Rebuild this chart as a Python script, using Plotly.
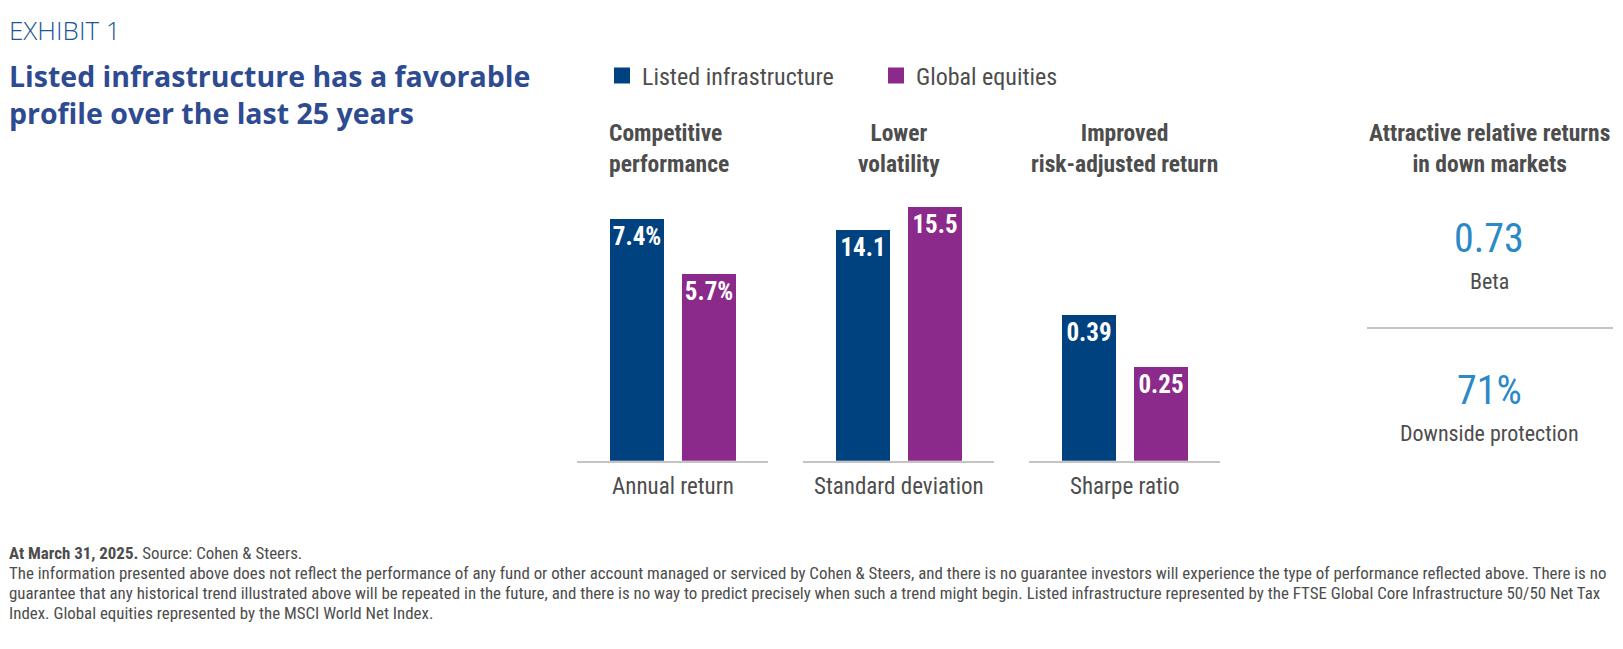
import plotly.graph_objects as go

# data
series = ["Listed infrastructure", "Global equities"]
metrics = ["Annual return", "Standard deviation", "Sharpe ratio"]
headers = ["Competitive<br>performance", "Lower<br>volatility", "Improved<br>risk-adjusted return"]
infra_vals = [7.4, 14.1, 0.39]
equity_vals = [5.7, 15.5, 0.25]
suffix = ["%", "", ""]
y_tops = [8.28, 16.54, 0.724]

beta_val = "0.73"
downside_val = "71%"

footnote_lines = [
    "<b>At March 31, 2025.</b> Source: Cohen & Steers.",
    "The information presented above does not reflect the performance of any fund or other account managed or serviced "
    "by Cohen & Steers, and there is no guarantee investors will experience the type of performance reflected above. There is no",
    "guarantee that any historical trend illustrated above will be repeated in the future, and there is no way to predict "
    "precisely when such a trend might begin. Listed infrastructure represented by the FTSE Global Core Infrastructure 50/50 Net Tax",
    "Index. Global equities represented by the MSCI World Net Index.",
]

# page body has an 8px margin, so the figure is placed at (8, 8)
OX, OY = 8, 8
W, H = 1615, 641
BLUE = "#00427f"
PURPLE = "#8b2a8b"
GRAY = "#4d4d4d"
LIGHT = "#c4c4c4"
NUM_BLUE = "#2b89c6"
TITLE_BLUE = "#2e4b91"
COND = "Roboto Condensed, DejaVu Sans Condensed, sans-serif"


def px(x):
    return (x - OX) / W


def py(y):
    return 1 - (y - OY) / H


# pixel layout of each group (baseline left / right)
group_px = [(577, 768), (803, 994), (1029, 1220)]
y_bottom, y_top = 460.7, 190

fig = go.Figure()

for i, m in enumerate(metrics):
    ax = "" if i == 0 else str(i + 1)
    vals = [infra_vals[i], equity_vals[i]]
    for j, (name, color) in enumerate(zip(series, [BLUE, PURPLE])):
        fig.add_trace(go.Bar(
            x=[j], y=[vals[j]], name=name,
            marker=dict(color=color, line=dict(width=0)),
            width=0.75,
            text=[f"{vals[j]}{suffix[i]}"],
            textposition="inside", insidetextanchor="end",
            constraintext="none", textangle=0,
            textfont=dict(family=COND, size=25, color="white", weight="bold"),
            showlegend=False, hoverinfo="skip",
            xaxis="x" + ax, yaxis="y" + ax,
        ))
    l, r = group_px[i]
    fig.layout["xaxis" + ax] = dict(
        domain=[px(l), px(r)], range=[-0.833, 1.819], anchor="y" + ax,
        showline=True, linecolor=LIGHT, linewidth=2,
        showticklabels=False, ticks="", showgrid=False, zeroline=False,
        fixedrange=True,
    )
    fig.layout["yaxis" + ax] = dict(
        domain=[py(y_bottom), py(y_top)], range=[0, y_tops[i]], anchor="x" + ax,
        visible=False, fixedrange=True,
    )
    # category label under baseline
    fig.add_annotation(
        text=m, xref=f"x{ax} domain", x=0.5, xanchor="center", yref="paper", y=py(486),
        yanchor="middle", showarrow=False,
        font=dict(family=COND, size=23, color=GRAY),
    )
    # header above
    if i == 0:
        fig.add_annotation(
            text=headers[i], xref="paper", x=px(607), xanchor="left", align="left",
            yref="paper", y=py(148), yanchor="middle", showarrow=False,
            font=dict(family=COND, size=23.5, color=GRAY, weight="bold"),
        )
    else:
        fig.add_annotation(
            text=headers[i], xref=f"x{ax} domain", x=0.5, xanchor="center", align="center",
            yref="paper", y=py(148), yanchor="middle", showarrow=False,
            font=dict(family=COND, size=23.5, color=GRAY, weight="bold"),
        )

# legend entries
for name, color in zip(series, [BLUE, PURPLE]):
    fig.add_trace(go.Scatter(
        x=[None], y=[None], mode="markers", name=name,
        marker=dict(symbol="square", size=19, color=color),
        hoverinfo="skip",
    ))

# right panel
right_x = px(1489)
fig.add_annotation(
    text="Attractive relative returns<br>in down markets", xref="paper", x=right_x, xanchor="center",
    yref="paper", y=py(148), yanchor="middle", showarrow=False, align="center",
    font=dict(family=COND, size=23.5, color=GRAY, weight="bold"),
)
fig.add_annotation(
    text=beta_val, xref="paper", x=right_x, xanchor="center", yref="paper", y=py(238),
    yanchor="middle", showarrow=False, font=dict(family=COND, size=40, color=NUM_BLUE),
)
fig.add_annotation(
    text="Beta", xref="paper", x=right_x, xanchor="center", yref="paper", y=py(281),
    yanchor="middle", showarrow=False, font=dict(family=COND, size=22, color=GRAY),
)
fig.add_shape(
    type="line", xref="paper", yref="paper", x0=px(1367), x1=px(1613), y0=py(328), y1=py(328),
    line=dict(color=LIGHT, width=2),
)
fig.add_annotation(
    text=downside_val, xref="paper", x=right_x, xanchor="center", yref="paper", y=py(390),
    yanchor="middle", showarrow=False, font=dict(family=COND, size=40, color=NUM_BLUE),
)
fig.add_annotation(
    text="Downside protection", xref="paper", x=right_x, xanchor="center", yref="paper", y=py(433),
    yanchor="middle", showarrow=False, font=dict(family=COND, size=22, color=GRAY),
)

# titles
fig.add_annotation(
    text="EXHIBIT 1", xref="paper", x=px(7), xanchor="left", yref="paper", y=py(30),
    yanchor="middle", showarrow=False,
    font=dict(family="Open Sans", size=26, color="#1f5596", weight=300),
)
fig.add_annotation(
    text="Listed infrastructure has a favorable<br>profile over the last 25 years",
    xref="paper", x=px(7), xanchor="left", align="left", yref="paper", y=py(95),
    yanchor="middle", showarrow=False,
    font=dict(family="Open Sans", size=28.5, color=TITLE_BLUE, weight="bold"),
)

# footnote, one annotation per line
for line, yc in zip(footnote_lines, [553, 573, 593, 613]):
    fig.add_annotation(
        text=line, xref="paper", x=px(7), xanchor="left", align="left",
        yref="paper", y=py(yc), yanchor="middle", showarrow=False,
        font=dict(family=COND, size=16.9, color=GRAY),
    )

fig.update_layout(
    width=W, height=H,
    margin=dict(l=0, r=0, t=0, b=0),
    paper_bgcolor="white", plot_bgcolor="white",
    bargap=0,
    showlegend=True,
    legend=dict(
        orientation="h", x=px(602), xanchor="left", y=py(76), yanchor="middle",
        font=dict(family=COND, size=24, color=GRAY),
        entrywidth=229, entrywidthmode="pixels", itemclick=False, itemdoubleclick=False,
    ),
)

fig.write_html("out.html")
